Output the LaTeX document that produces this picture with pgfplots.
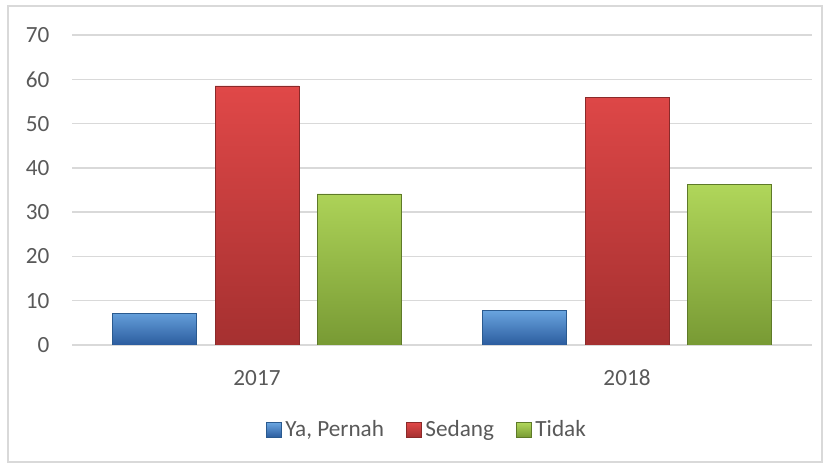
\documentclass[border=0pt]{standalone}
\usepackage{pgfplots}
\pgfplotsset{compat=1.18}
\usepackage{fontspec}
\setmainfont{Carlito}
\definecolor{tick}{HTML}{595959}
\definecolor{gridc}{HTML}{D9D9D9}
\definecolor{bT}{HTML}{6AA5E0}\definecolor{bM}{HTML}{3D7CC9}\definecolor{bB}{HTML}{2B5C9E}\definecolor{bD}{HTML}{2A5A8F}
\definecolor{rT}{HTML}{E04848}\definecolor{rM}{HTML}{CF3F3F}\definecolor{rB}{HTML}{A53030}\definecolor{rD}{HTML}{8A2A2A}
\definecolor{gT}{HTML}{B0D65A}\definecolor{gM}{HTML}{98C244}\definecolor{gB}{HTML}{789A34}\definecolor{gD}{HTML}{5E7A28}
\begin{document}
\begin{tikzpicture}[x=1pt,y=1pt]
\path (0,0) rectangle (415,233);
\draw[gridc, line width=0.6pt] (4,2) rectangle (411,230);
\begin{axis}[
  at={(36pt,60.5pt)}, anchor=south west,
  width=370pt, height=155pt, scale only axis,
  xmin=-0.5, xmax=1.5, ymin=0, ymax=70,
  ytick={0,10,...,70}, xtick={0,1}, xticklabels={2017,2018},
  /pgf/number format/assume math mode=true,
  axis line style={draw=none}, major tick length=0pt,
  ymajorgrids, major grid style={gridc, line width=0.75pt},
  ticklabel style={font=\fontsize{11.6}{13}\selectfont, text=tick},
  yticklabel style={xshift=-7.8pt},
  xticklabel style={yshift=-9pt},
  ybar, bar width=0.227,
  legend columns=3,
  legend style={at={(0.481,-0.274)}, anchor=center, draw=none, fill=none,
    font=\fontsize{11.6}{13}\selectfont, text=tick,
    nodes={inner xsep=2pt},
    /tikz/every even column/.append style={column sep=9pt}},
  legend image code/.code={\draw[#1, line width=0.3pt] (0pt,-3.7pt) rectangle (7.4pt,3.7pt);},
]
\addplot[bar shift=-0.276, draw=bD, top color=bT, middle color=bM, bottom color=bB] coordinates {(0,7.2) (1,7.9)};
\addplot[bar shift=0, draw=rD, top color=rT, middle color=rM, bottom color=rB] coordinates {(0,58.5) (1,55.8)};
\addplot[bar shift=0.276, draw=gD, top color=gT, middle color=gM, bottom color=gB] coordinates {(0,34.1) (1,36.2)};
\legend{{Ya, Pernah}, Sedang, Tidak}
\end{axis}
\end{tikzpicture}
\end{document}
